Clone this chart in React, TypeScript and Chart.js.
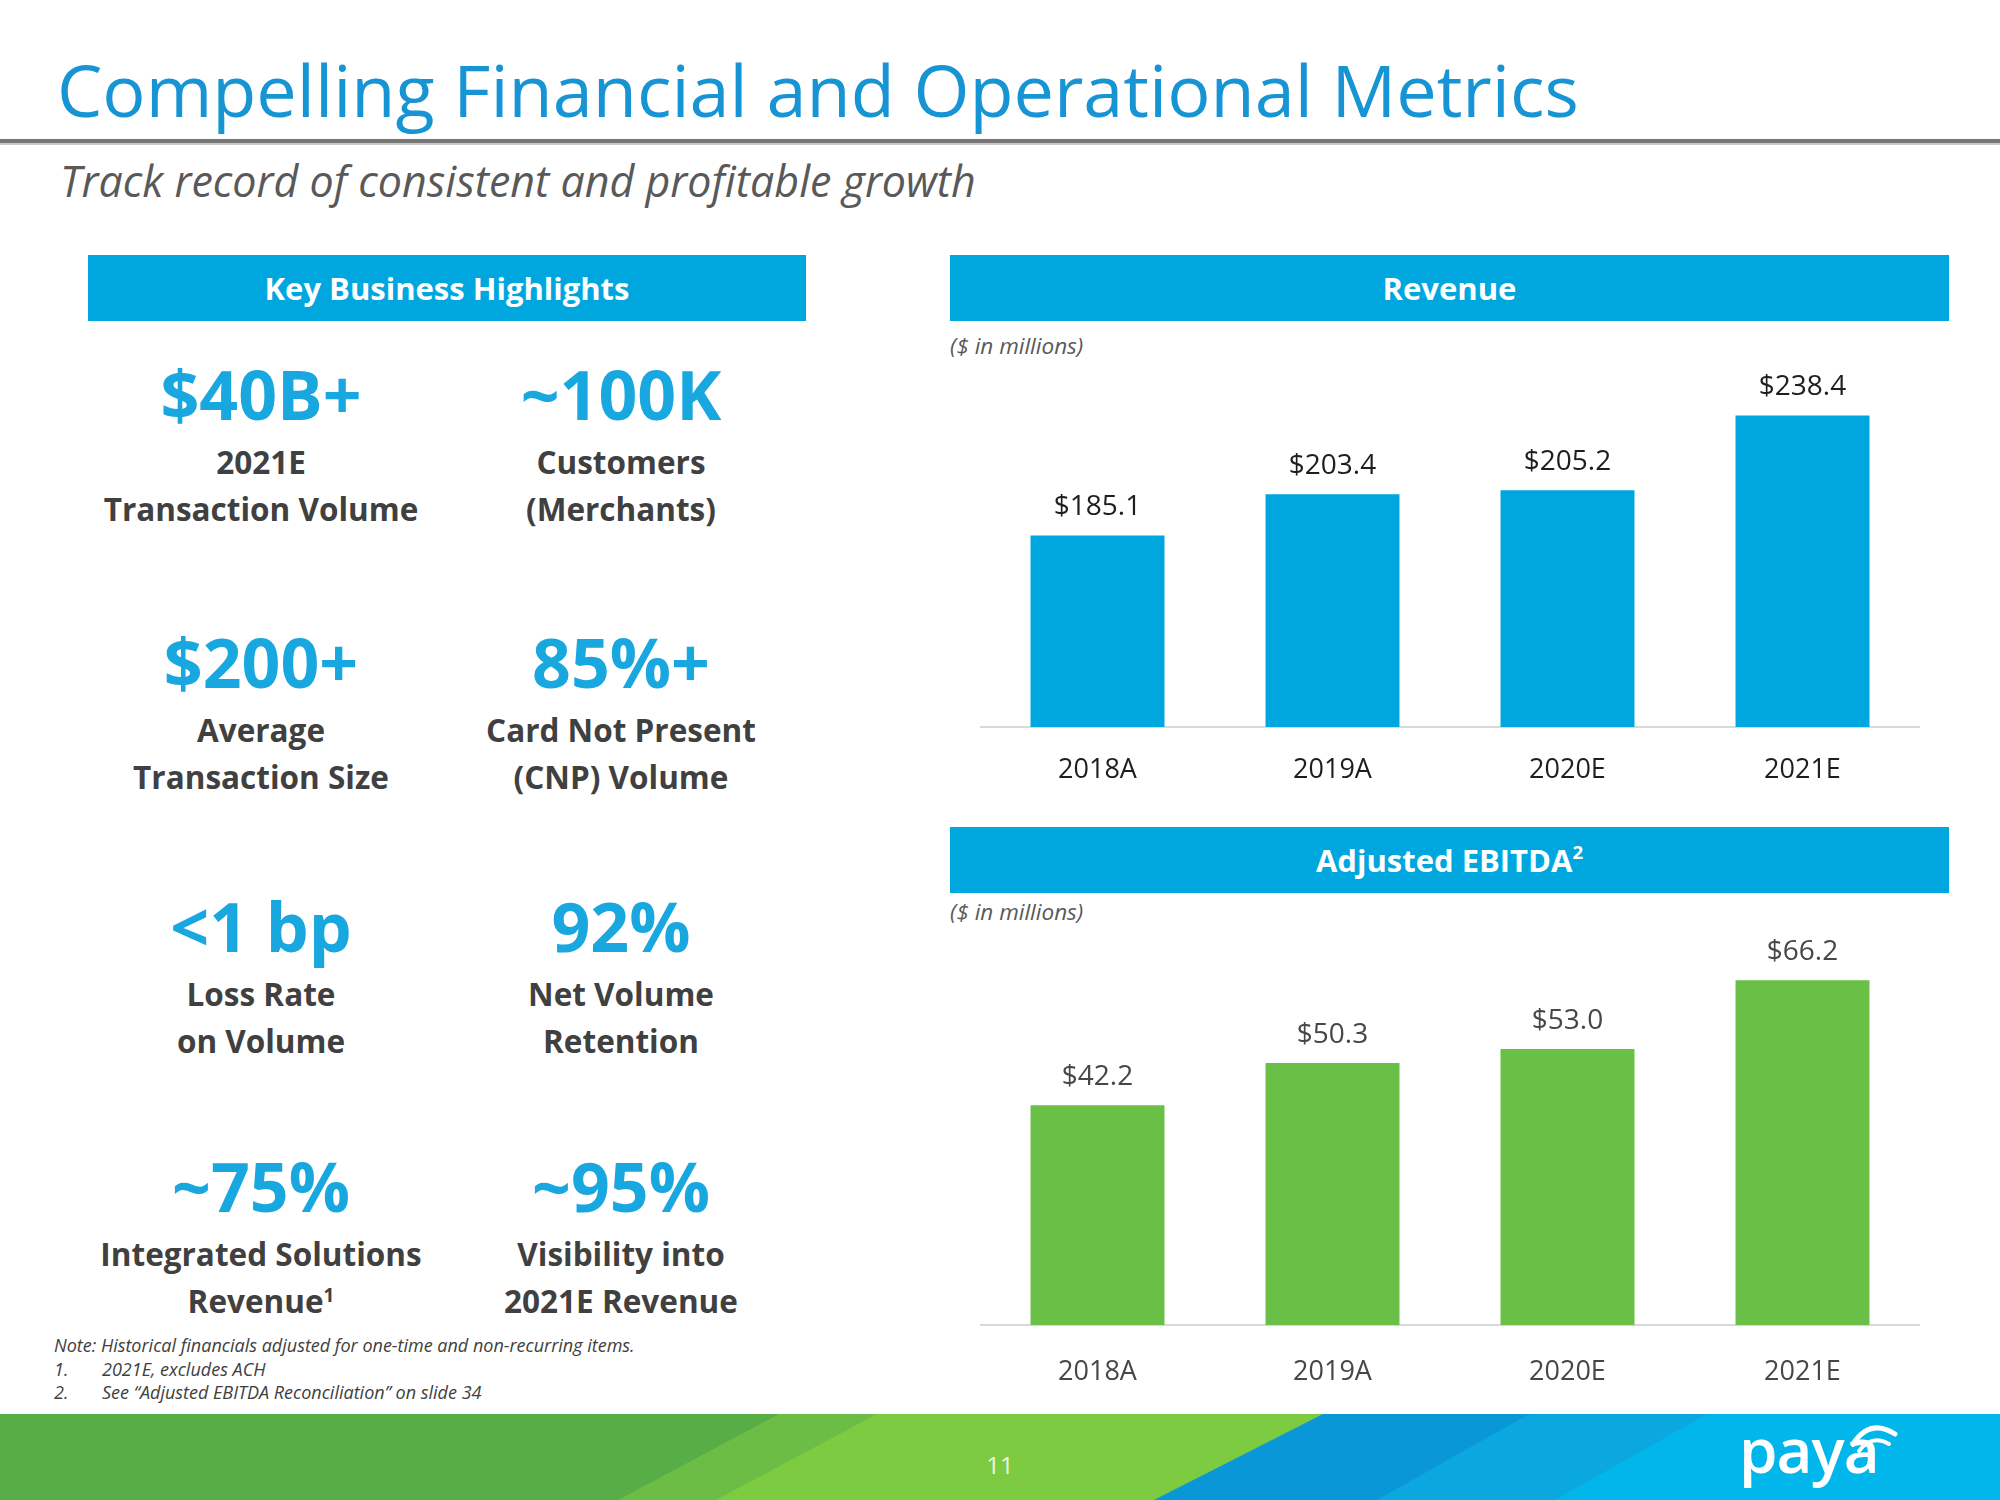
import React, { useEffect, useRef } from 'react';
import { Chart, registerables } from 'chart.js';

Chart.register(...registerables);

// ---------- data ----------
const categories = ['2018A', '2019A', '2020E', '2021E'];
const revenueValues = [185.1, 203.4, 205.2, 238.4];
const ebitdaValues = [42.2, 50.3, 53.0, 66.2];

const highlightValues = ['$40B+', '~100K', '$200+', '85%+', '<1 bp', '92%', '~75%', '~95%'];
const highlightLine1 = ['2021E', 'Customers', 'Average', 'Card Not Present', 'Loss Rate', 'Net Volume', 'Integrated Solutions', 'Visibility into'];
const highlightLine2 = ['Transaction Volume', '(Merchants)', 'Transaction Size', '(CNP) Volume', 'on Volume', 'Retention', 'Revenue', '2021E Revenue'];
const highlightSup = ['', '', '', '', '', '', '1', ''];

const noteText = 'Note: Historical financials adjusted for one-time and non-recurring items.';
const footnoteNums = ['1.', '2.'];
const footnoteTexts = ['2021E, excludes ACH', 'See \u201cAdjusted EBITDA Reconciliation\u201d on slide 34'];

// ---------- style constants ----------
const FONT = '"Open Sans", "DejaVu Sans", sans-serif';
const HEADER_BLUE = '#00a7df';
const BIG_BLUE = '#19a7df';
const TEXT_GRAY = '#404040';

const colCenters = [261, 621];
const rowCenters = [394, 662, 926, 1186];

type BarProps = {
  values: number[];
  color: string;
  textColor: string;
  min: number;
  max: number;
  left: number;
  top: number;
  width: number;
  height: number;
  padTop: number;
  axisHeight: number;
  tickPad: number;
};

function BarChart(p: BarProps) {
  const ref = useRef<HTMLCanvasElement>(null);
  useEffect(() => {
    const valueLabels = {
      id: 'valueLabels',
      afterDatasetsDraw(chart: any) {
        const ctx = chart.ctx;
        const meta = chart.getDatasetMeta(0);
        const data = chart.data.datasets[0].data as number[];
        ctx.save();
        ctx.font = `28px ${FONT}`;
        ctx.fillStyle = p.textColor;
        ctx.textAlign = 'center';
        ctx.textBaseline = 'middle';
        meta.data.forEach((bar: any, i: number) => {
          ctx.fillText('$' + data[i].toFixed(1), bar.x, bar.y - 28);
        });
        ctx.restore();
      },
    };
    const chart = new Chart(ref.current as HTMLCanvasElement, {
      type: 'bar',
      data: {
        labels: categories,
        datasets: [
          {
            data: p.values,
            backgroundColor: p.color,
            borderWidth: 0,
            barPercentage: 0.57,
            categoryPercentage: 1,
          },
        ],
      },
      options: {
        responsive: false,
        animation: false,
        layout: { padding: { top: p.padTop, left: 0, right: 0, bottom: 0 } },
        plugins: { legend: { display: false }, tooltip: { enabled: false } },
        scales: {
          x: {
            grid: { display: false, drawTicks: false },
            border: { display: true, color: '#d9d9d9', width: 2 },
            ticks: {
              color: p.textColor,
              font: { family: FONT, size: 27 },
              padding: p.tickPad,
              maxRotation: 0,
            },
            afterFit: (s: any) => {
              s.height = p.axisHeight;
            },
          },
          y: { display: false, min: p.min, max: p.max },
        },
      },
      plugins: [valueLabels],
    } as any);
    return () => chart.destroy();
  }, []);
  return (
    <canvas
      ref={ref}
      width={p.width}
      height={p.height}
      style={{ position: 'absolute', left: p.left, top: p.top, width: p.width, height: p.height }}
    />
  );
}

function Centered({ cx, cy, size, lh, color, weight, children, italic }: any) {
  return (
    <div
      style={{
        position: 'absolute',
        left: cx - 300,
        width: 600,
        top: cy - lh / 2,
        height: lh,
        lineHeight: lh + 'px',
        fontSize: size,
        fontWeight: weight,
        fontStyle: italic ? 'italic' : 'normal',
        color,
        textAlign: 'center',
        whiteSpace: 'nowrap',
      }}
    >
      {children}
    </div>
  );
}

function HeaderBox({ left, top, width, height, children }: any) {
  return (
    <div
      style={{
        position: 'absolute',
        left,
        top,
        width,
        height,
        background: HEADER_BLUE,
        color: '#fff',
        fontWeight: 700,
        fontSize: 31,
        lineHeight: height + 'px',
        textAlign: 'center',
        whiteSpace: 'nowrap',
      }}
    >
      {children}
    </div>
  );
}

export default function App() {
  useEffect(() => {
    document.body.style.margin = '0';
  }, []);

  return (
    <div
      style={{
        position: 'relative',
        width: 2000,
        height: 1500,
        overflow: 'hidden',
        background: '#fff',
        fontFamily: FONT,
      }}
    >
      {/* Title */}
      <div
        style={{
          position: 'absolute',
          left: 57,
          top: 46,
          height: 86,
          lineHeight: '86px',
          fontSize: 72,
          color: '#1794d4',
          whiteSpace: 'nowrap',
        }}
      >
        Compelling Financial and Operational Metrics
      </div>
      <div style={{ position: 'absolute', left: 0, top: 139, width: 2000, height: 4, background: '#767676' }} />
      <div style={{ position: 'absolute', left: 0, top: 143, width: 2000, height: 2, background: '#c8c8c8' }} />
      <div
        style={{
          position: 'absolute',
          left: 60,
          top: 156,
          height: 50,
          lineHeight: '50px',
          fontSize: 43,
          fontStyle: 'italic',
          color: '#595959',
          whiteSpace: 'nowrap',
        }}
      >
        Track record of consistent and profitable growth
      </div>

      {/* Left panel */}
      <HeaderBox left={88} top={255} width={718} height={66}>
        Key Business Highlights
      </HeaderBox>
      {highlightValues.map((v, i) => {
        const cx = colCenters[i % 2];
        const cy = rowCenters[Math.floor(i / 2)];
        return (
          <React.Fragment key={i}>
            <Centered cx={cx} cy={cy} size={68} lh={84} color={BIG_BLUE} weight={700}>
              {v}
            </Centered>
            <Centered cx={cx} cy={cy + 68} size={31.5} lh={42} color={TEXT_GRAY} weight={700}>
              {highlightLine1[i]}
            </Centered>
            <Centered cx={cx} cy={cy + 115} size={31.5} lh={42} color={TEXT_GRAY} weight={700}>
              {highlightLine2[i]}
              {highlightSup[i] ? (
                <sup style={{ fontSize: '0.6em', lineHeight: 0, verticalAlign: '0.6em' }}>{highlightSup[i]}</sup>
              ) : null}
            </Centered>
          </React.Fragment>
        );
      })}

      {/* Footnotes */}
      <div
        style={{
          position: 'absolute',
          left: 54,
          top: 1334,
          fontSize: 18,
          lineHeight: '23.5px',
          fontStyle: 'italic',
          color: TEXT_GRAY,
          whiteSpace: 'nowrap',
        }}
      >
        <div>{noteText}</div>
        {footnoteNums.map((n, i) => (
          <div key={i} style={{ position: 'relative', height: 23.5 }}>
            <span style={{ position: 'absolute', left: 0 }}>{n}</span>
            <span style={{ position: 'absolute', left: 48 }}>{footnoteTexts[i]}</span>
          </div>
        ))}
      </div>

      {/* Revenue */}
      <HeaderBox left={950} top={255} width={999} height={66}>
        Revenue
      </HeaderBox>
      <div
        style={{
          position: 'absolute',
          left: 950,
          top: 331,
          fontSize: 22.5,
          lineHeight: '30px',
          fontStyle: 'italic',
          color: '#595959',
          whiteSpace: 'nowrap',
        }}
      >
        ($ in millions)
      </div>
      <BarChart
        values={revenueValues}
        color="#00a7df"
        textColor="#1e1e1e"
        min={100}
        max={263}
        left={980}
        top={340}
        width={940}
        height={460}
        padTop={20}
        axisHeight={73}
        tickPad={27}
      />

      {/* Adjusted EBITDA */}
      <HeaderBox left={950} top={827} width={999} height={66}>
        Adjusted EBITDA
        <sup style={{ fontSize: '0.6em', lineHeight: 0, verticalAlign: '0.7em' }}>2</sup>
      </HeaderBox>
      <div
        style={{
          position: 'absolute',
          left: 950,
          top: 897,
          fontSize: 22.5,
          lineHeight: '30px',
          fontStyle: 'italic',
          color: '#595959',
          whiteSpace: 'nowrap',
        }}
      >
        ($ in millions)
      </div>
      <BarChart
        values={ebitdaValues}
        color="#6abf47"
        textColor="#474747"
        min={0}
        max={81.6}
        left={980}
        top={880}
        width={940}
        height={525}
        padTop={20}
        axisHeight={80}
        tickPad={31}
      />

      {/* Footer band */}
      <svg style={{ position: 'absolute', left: 0, top: 1414 }} width={2000} height={86}>
        <rect x={0} y={0} width={2000} height={86} fill="#00b6eb" />
        <polygon points="0,0 1707,0 1555,86 0,86" fill="#0ba8e0" />
        <polygon points="0,0 1529,0 1377,86 0,86" fill="#0a97d8" />
        <polygon points="0,0 1323,0 1154,86 0,86" fill="#7dcb41" />
        <polygon points="0,0 877,0 716,86 0,86" fill="#6cbd45" />
        <polygon points="0,0 779,0 618,86 0,86" fill="#57ad46" />
        {/* logo accent */}
        <path d="M1853,1444 Q1870,1418 1895,1434" transform="translate(0,-1414)" stroke="#fff" strokeWidth={5} fill="none" strokeLinecap="round" />
        <path d="M1859,1451 Q1872,1434 1889,1444" transform="translate(0,-1414)" stroke="#fff" strokeWidth={4} fill="none" strokeLinecap="round" />
      </svg>
      <div
        style={{
          position: 'absolute',
          left: 960,
          width: 80,
          top: 1450,
          lineHeight: '30px',
          fontSize: 24,
          color: '#eef6e6',
          textAlign: 'center',
        }}
      >
        11
      </div>
      <div
        style={{
          position: 'absolute',
          left: 1739,
          top: 1412,
          lineHeight: '74px',
          fontSize: 62,
          fontWeight: 600,
          color: '#fff',
          letterSpacing: -1,
        }}
      >
        paya
      </div>
    </div>
  );
}
